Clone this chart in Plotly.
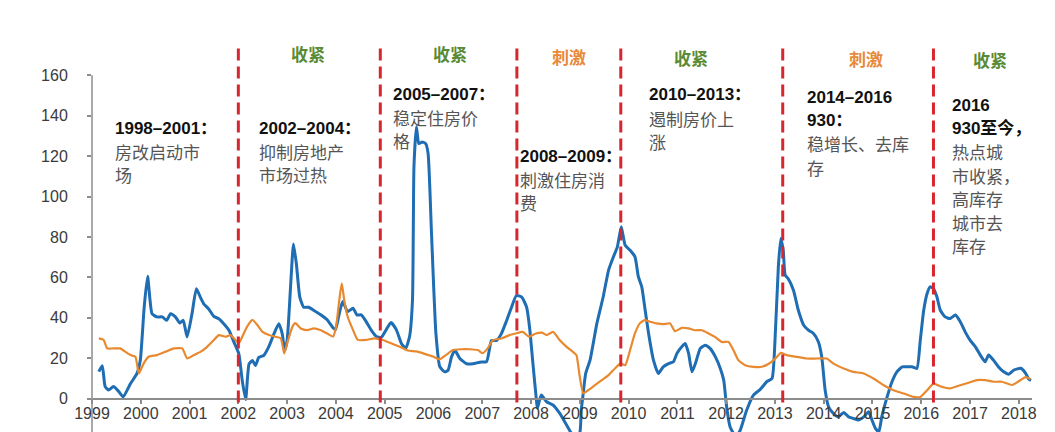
import plotly.graph_objects as go

# ---------------- data ----------------
blue_x = [1999.14, 1999.21, 1999.27, 1999.34, 1999.44, 1999.55, 1999.64, 1999.79, 1999.92, 1999.99,
          2000.07, 2000.14, 2000.23, 2000.33, 2000.44, 2000.53, 2000.61, 2000.71, 2000.80, 2000.87,
          2000.95, 2001.05, 2001.14, 2001.22, 2001.29, 2001.39, 2001.50, 2001.60, 2001.70, 2001.81,
          2001.91, 2002.01, 2002.08, 2002.15, 2002.22, 2002.29, 2002.35, 2002.42, 2002.52, 2002.62,
          2002.73, 2002.83, 2002.90, 2002.95, 2003.00, 2003.07, 2003.13, 2003.19, 2003.26, 2003.34,
          2003.44, 2003.55, 2003.68, 2003.82, 2003.94, 2003.99, 2004.07, 2004.14, 2004.24, 2004.35,
          2004.43, 2004.52, 2004.62, 2004.72, 2004.83, 2004.93, 2005.03, 2005.13, 2005.24, 2005.34,
          2005.43, 2005.51, 2005.57, 2005.60, 2005.65, 2005.70, 2005.77, 2005.84, 2005.89, 2005.96,
          2006.05, 2006.13, 2006.23, 2006.30, 2006.37, 2006.44, 2006.54, 2006.68, 2006.81, 2006.95,
          2007.09, 2007.19, 2007.29, 2007.39, 2007.50, 2007.60, 2007.70, 2007.81, 2007.91, 2007.97,
          2008.04, 2008.11, 2008.13, 2008.21, 2008.32, 2008.45, 2008.59, 2008.69, 2008.79, 2008.90,
          2009.00, 2009.03, 2009.07, 2009.12, 2009.21, 2009.35, 2009.48, 2009.59, 2009.69, 2009.77,
          2009.85, 2009.93, 2010.03, 2010.13, 2010.20, 2010.27, 2010.34, 2010.41, 2010.51, 2010.61,
          2010.71, 2010.82, 2010.92, 2010.99, 2011.09, 2011.16, 2011.23, 2011.30, 2011.37, 2011.47,
          2011.57, 2011.67, 2011.78, 2011.88, 2011.95, 2012.01, 2012.08, 2012.20, 2012.29, 2012.42,
          2012.56, 2012.70, 2012.83, 2012.94, 2013.00, 2013.07, 2013.12, 2013.17, 2013.21, 2013.27,
          2013.38, 2013.48, 2013.59, 2013.69, 2013.79, 2013.89, 2013.96, 2014.03, 2014.10, 2014.20,
          2014.30, 2014.41, 2014.51, 2014.61, 2014.71, 2014.82, 2014.92, 2014.99, 2015.06, 2015.13,
          2015.19, 2015.30, 2015.40, 2015.50, 2015.61, 2015.71, 2015.81, 2015.91, 2015.98, 2016.05,
          2016.12, 2016.18, 2016.25, 2016.32, 2016.39, 2016.49, 2016.59, 2016.70, 2016.80, 2016.90,
          2017.00, 2017.11, 2017.21, 2017.31, 2017.38, 2017.48, 2017.58, 2017.69, 2017.79, 2017.90,
          2018.04, 2018.14, 2018.20, 2018.25]
blue_y = [13.3, 16.2, 5.9, 4.2, 5.9, 3.4, 0.8, 7.4, 12.3, 18.9,
          45.3, 60.5, 42.0, 40.4, 40.4, 38.7, 42.0, 40.4, 37.4, 38.7,
          30.5, 42.0, 54.4, 50.2, 46.9, 44.4, 40.6, 39.5, 37.0, 33.7,
          27.9, 22.1, 8.9, -0.5, 17.1, 18.8, 16.3, 20.4, 21.3, 25.4,
          32.0, 37.0, 32.0, 23.8, 28.7, 55.1, 76.5, 66.6, 50.2, 45.2,
          45.2, 43.6, 41.6, 39.0, 35.0, 34.0, 42.2, 48.0, 43.0, 44.7,
          41.4, 41.4, 38.1, 34.0, 30.7, 30.3, 34.0, 37.6, 34.0, 27.4,
          24.8, 30.7, 48.8, 114.7, 134.5, 126.2, 127.0, 126.2, 121.3, 81.7,
          32.3, 15.8, 13.2, 14.0, 20.6, 23.9, 19.8, 17.2, 17.2, 18.0,
          18.3, 28.7, 28.7, 32.0, 38.6, 45.2, 51.0, 50.2, 45.2, 35.3,
          17.0, -0.7, -4.8, 1.7, -1.6, -3.2, -7.4, -11.5, -15.7, -20.0,
          -17.0, -5.8, 2.5, 12.4, 19.0, 37.2, 50.4, 63.6, 70.2, 75.1,
          85.0, 75.9, 73.4, 70.2, 60.3, 55.3, 43.7, 32.2, 19.0, 12.4,
          15.7, 17.3, 18.2, 22.3, 25.6, 27.2, 22.3, 13.2, 17.3, 24.8,
          26.4, 24.8, 20.6, 14.9, 9.1, -4.1, -14.0, -19.0, -15.6, -5.8,
          1.7, 4.5, 8.3, 9.9, 28.0, 65.2, 79.2, 73.4, 61.1, 59.4,
          53.6, 43.7, 36.3, 33.8, 32.2, 28.1, 20.6, 4.1, -4.1, -7.4,
          -9.1, -6.9, -9.1, -9.9, -10.7, -9.1, -6.6, -10.7, -14.8, -16.5,
          -9.1, 0.8, 8.3, 13.2, 15.7, 15.7, 15.7, 14.9, 28.9, 43.7,
          52.0, 55.3, 54.4, 50.4, 43.7, 40.4, 39.6, 41.3, 38.0, 33.0,
          28.9, 25.6, 21.5, 18.2, 21.5, 19.0, 15.7, 13.2, 12.0, 14.1,
          15.0, 12.5, 9.7, 9.0]

orange_x = [1999.14, 1999.24, 1999.31, 1999.44, 1999.58, 1999.68, 1999.79, 1999.89, 1999.96, 2000.06,
            2000.16, 2000.33, 2000.51, 2000.68, 2000.85, 2000.95, 2001.09, 2001.23, 2001.36, 2001.50,
            2001.60, 2001.74, 2001.84, 2001.94, 2002.01, 2002.08, 2002.18, 2002.29, 2002.39, 2002.49,
            2002.63, 2002.76, 2002.87, 2002.94, 2003.00, 2003.11, 2003.17, 2003.28, 2003.41, 2003.55,
            2003.68, 2003.82, 2003.94, 2004.00, 2004.07, 2004.12, 2004.17, 2004.24, 2004.35, 2004.45,
            2004.62, 2004.79, 2004.96, 2005.13, 2005.30, 2005.47, 2005.65, 2005.82, 2005.99, 2006.13,
            2006.26, 2006.40, 2006.57, 2006.74, 2006.91, 2007.01, 2007.11, 2007.22, 2007.39, 2007.56,
            2007.69, 2007.83, 2007.96, 2008.10, 2008.23, 2008.32, 2008.45, 2008.59, 2008.73, 2008.86,
            2008.93, 2009.00, 2009.07, 2009.17, 2009.31, 2009.45, 2009.59, 2009.72, 2009.83, 2009.93,
            2010.03, 2010.13, 2010.23, 2010.33, 2010.44, 2010.57, 2010.71, 2010.85, 2010.95, 2011.09,
            2011.23, 2011.36, 2011.50, 2011.64, 2011.77, 2011.91, 2012.05, 2012.15, 2012.25, 2012.39,
            2012.56, 2012.73, 2012.90, 2013.04, 2013.12, 2013.24, 2013.45, 2013.65, 2013.86, 2014.06,
            2014.20, 2014.41, 2014.61, 2014.82, 2015.02, 2015.23, 2015.43, 2015.64, 2015.84, 2015.98,
            2016.12, 2016.25, 2016.42, 2016.59, 2016.80, 2016.97, 2017.14, 2017.31, 2017.48, 2017.65,
            2017.86, 2018.04, 2018.14, 2018.24]
orange_y = [29.8, 29.0, 24.8, 24.8, 24.8, 23.2, 21.5, 20.7, 12.4, 17.4,
            20.7, 21.5, 23.2, 24.8, 24.8, 19.9, 21.5, 23.2, 25.6, 29.0,
            31.4, 30.6, 31.4, 29.0, 27.3, 30.6, 35.6, 38.9, 36.4, 33.1,
            31.4, 30.6, 29.8, 22.3, 27.3, 35.6, 37.3, 34.7, 33.9, 34.7,
            33.9, 32.2, 30.6, 35.0, 48.8, 57.0, 48.8, 40.6, 34.0, 29.0,
            29.0, 29.8, 29.0, 27.4, 25.7, 23.8, 23.3, 22.1, 20.8, 19.4,
            21.6, 24.0, 24.4, 24.4, 24.0, 22.4, 24.8, 28.9, 29.7, 31.4,
            32.2, 33.0, 30.6, 32.2, 32.6, 31.4, 33.0, 28.9, 25.6, 23.1,
            21.5, 10.7, 2.5, 4.1, 6.6, 9.1, 11.6, 14.9, 17.3, 16.5,
            23.9, 32.2, 37.2, 38.8, 38.0, 37.2, 36.8, 37.2, 33.3, 35.0,
            34.7, 33.8, 33.8, 32.2, 30.5, 28.0, 28.0, 23.9, 19.0, 16.5,
            15.7, 15.7, 17.6, 20.6, 22.6, 21.5, 20.6, 19.8, 19.8, 19.8,
            17.3, 14.9, 13.2, 12.4, 9.9, 6.6, 4.1, 2.5, 0.8, 0.8,
            4.1, 7.4, 5.8, 5.0, 6.6, 7.8, 9.1, 9.1, 8.3, 8.3,
            6.7, 9.2, 10.6, 9.6]

year_ticks = list(range(1999, 2019))
year_labels = [str(y) for y in year_ticks]
y_ticks = [0, 20, 40, 60, 80, 100, 120, 140, 160]

policy_breaks = [2002.0, 2004.91, 2007.71, 2009.84, 2013.16, 2016.25]

phase_labels = ["收紧", "收紧", "刺激", "收紧", "刺激", "收紧"]
phase_kinds = ["tight", "tight", "stim", "tight", "stim", "tight"]

period_titles = [["1998–2001："], ["2002–2004："], ["2005–2007："], ["2008–2009："],
                 ["2010–2013："], ["2014–2016", "930："], ["2016", "930至今，"]]
period_notes = [["房改启动市", "场"], ["抑制房地产", "市场过热"], ["稳定住房价", "格"],
                ["刺激住房消", "费"], ["遏制房价上", "涨"], ["稳增长、去库", "存"],
                ["热点城", "市收紧，", "高库存", "城市去", "库存"]]

# ---------------- layout geometry ----------------
# the page body has an 8px margin, so the figure is drawn 8px right / 8px down
OFF = 8
W, H = 1055 - OFF, 432 - OFF
L, R, T, B = 92 - OFF, 23, 40 - OFF, 0
X_RANGE = [1999.0, 2018.27]
Y_RANGE = [-16.58, 177.5]
PW, PH = W - L - R, H - T - B


def px_to_paper_x(px):
    return (px - OFF - L) / PW


def py_to_paper_y(py):
    return (H - B - (py - OFF)) / PH


BLUE = "#1f6db3"
ORANGE = "#e8892f"
RED = "#d8262f"
GREEN = "#5a8a33"
STIM = "#e8893a"
AXIS = "#8c8c8c"
TICKTXT = "#3a3a3a"

fig = go.Figure()
fig.add_trace(go.Scatter(x=blue_x, y=blue_y, mode="lines",
                         line=dict(color=BLUE, width=3, shape="spline", smoothing=0.5),
                         showlegend=False, hoverinfo="skip"))
fig.add_trace(go.Scatter(x=orange_x, y=orange_y, mode="lines",
                         line=dict(color=ORANGE, width=2.2, shape="spline", smoothing=0.5),
                         showlegend=False, hoverinfo="skip"))

# red dashed policy break lines
for xb in policy_breaks:
    fig.add_shape(type="line", xref="x", yref="y", x0=xb, x1=xb, y0=-2, y1=175,
                  line=dict(color=RED, width=3, dash="12px,6px"), layer="above")

# y axis line (from the bottom edge up to 160)
fig.add_shape(type="line", xref="paper", yref="y", x0=0, x1=0, y0=Y_RANGE[0], y1=160,
              line=dict(color=AXIS, width=1.5), layer="above")

annotations = []
# phase labels on top
phase_px = [308, 450, 569, 691, 866, 990]
phase_py = [54, 54, 56, 57, 58, 60]
for lab, kind, px, py in zip(phase_labels, phase_kinds, phase_px, phase_py):
    annotations.append(dict(
        x=px_to_paper_x(px), y=py_to_paper_y(py), xref="paper", yref="paper",
        text="<b>" + lab + "</b>", showarrow=False, xanchor="center", yanchor="middle",
        font=dict(family="Noto Sans CJK SC", size=17, color=GREEN if kind == "tight" else STIM)))

# period descriptions
block_left = [113, 257, 391, 518, 647, 805, 950]
block_top = [128, 128, 94, 156, 95, 97, 105]
LINE_H = 23.4
for titles, notes, bx, by in zip(period_titles, period_notes, block_left, block_top):
    k = 0
    for t in titles:
        annotations.append(dict(
            x=px_to_paper_x(bx), y=py_to_paper_y(by + k * LINE_H), xref="paper", yref="paper",
            text="<b>" + t + "</b>", showarrow=False, xanchor="left", yanchor="middle",
            font=dict(family="Liberation Sans, Noto Sans CJK SC", size=17, color="#111111")))
        k += 1
    for n in notes:
        annotations.append(dict(
            x=px_to_paper_x(bx), y=py_to_paper_y(by + k * LINE_H), xref="paper", yref="paper",
            text=n, showarrow=False, xanchor="left", yanchor="middle",
            font=dict(family="Noto Sans CJK SC", size=17, color="#555555")))
        k += 1

x_axis_pos = (0 - Y_RANGE[0]) / (Y_RANGE[1] - Y_RANGE[0])

fig.update_layout(
    width=W, height=H,
    margin=dict(l=L, r=R, t=T, b=B, pad=0, autoexpand=False),
    paper_bgcolor="white", plot_bgcolor="white",
    annotations=annotations,
    xaxis=dict(range=X_RANGE, anchor="free", position=x_axis_pos, automargin=False,
               showline=True, linecolor=AXIS, linewidth=1.5,
               ticks="outside", ticklen=5, tickcolor=AXIS, tickwidth=1.5,
               tickvals=year_ticks, ticktext=year_labels,
               tickfont=dict(family="Liberation Sans", size=16, color=TICKTXT),
               ticklabelstandoff=-4,
               showgrid=False, zeroline=False),
    yaxis=dict(range=Y_RANGE, showline=False, automargin=False,
               ticks="outside", ticklen=4, tickcolor=AXIS, tickwidth=1.5,
               tickvals=y_ticks, ticktext=[str(v) for v in y_ticks],
               tickfont=dict(family="Liberation Sans", size=16, color=TICKTXT),
               ticklabelstandoff=16,
               showgrid=False, zeroline=False),
)

fig.write_html("out.html")
